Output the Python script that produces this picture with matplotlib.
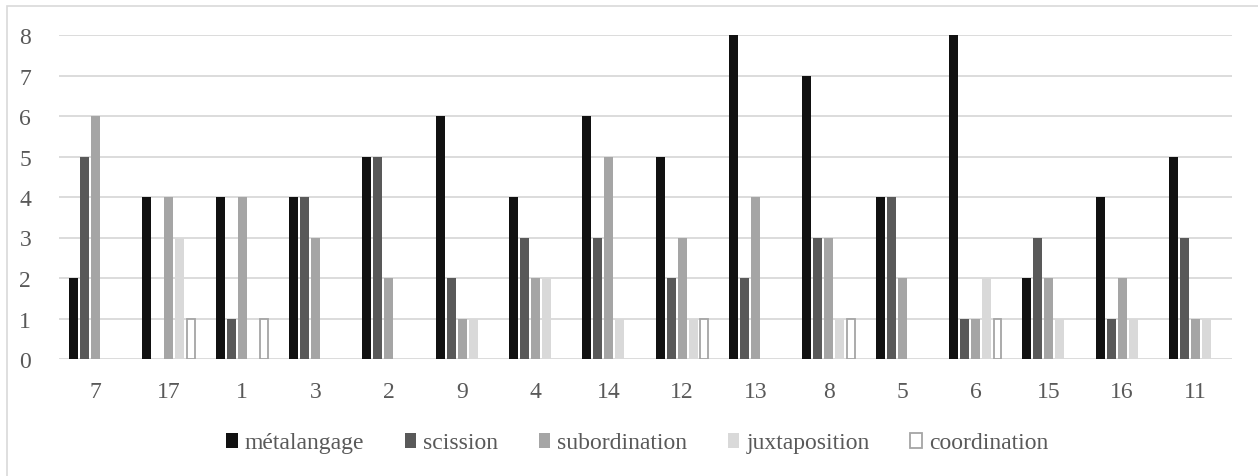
import matplotlib
matplotlib.use("Agg")
import matplotlib.pyplot as plt
import numpy as np
from matplotlib.patches import Rectangle

categories = ["7", "17", "1", "3", "2", "9", "4", "14", "12", "13", "8", "5", "6", "15", "16", "11"]
metalangage   = [2, 4, 4, 4, 5, 6, 4, 6, 5, 8, 7, 4, 8, 2, 4, 5]
scission      = [5, 0, 1, 4, 5, 2, 3, 3, 2, 2, 3, 4, 1, 3, 1, 3]
subordination = [6, 4, 4, 3, 2, 1, 2, 5, 3, 4, 3, 2, 1, 2, 2, 1]
juxtaposition = [0, 3, 0, 0, 0, 1, 2, 1, 1, 0, 1, 0, 2, 1, 1, 1]
coordination  = [0, 1, 1, 0, 0, 0, 0, 0, 1, 0, 1, 0, 1, 0, 0, 0]
series_names = ["métalangage", "scission", "subordination", "juxtaposition", "coordination"]

plt.rcParams['font.family'] = ['Liberation Serif', 'DejaVu Serif']

fig = plt.figure(figsize=(12.58, 4.77), dpi=100)
fig.patches.append(Rectangle((7/1258, -0.1), 1.2, 1.1 - 7/477,
                             transform=fig.transFigure, fill=False,
                             edgecolor="#d9d9d9", linewidth=1.2))
ax = fig.add_axes([59/1258, 1-360/477, (1232-59)/1258, (360-36)/477])

x = np.arange(len(categories))
step = 0.150
w = 0.123
styles = [
    dict(color="#111111"),
    dict(color="#595959"),
    dict(color="#a5a5a5"),
    dict(color="#d9d9d9"),
    dict(facecolor="white", edgecolor="#a5a5a5", linewidth=1.3),
]
data = [metalangage, scission, subordination, juxtaposition, coordination]
for i, (vals, name, st) in enumerate(zip(data, series_names, styles)):
    vals = np.asarray(vals, dtype=float)
    mask = vals > 0
    ww = w if i < 4 else w - 0.02
    ax.bar((x + (i - 2) * step)[mask], vals[mask], width=ww, label=name, zorder=3, **st)

ax.set_xlim(-0.5, len(categories) - 0.5)
ax.set_ylim(0, 8)
ax.set_yticks(range(0, 9))
ax.set_xticks(x)
ax.set_xticklabels(categories)
ax.grid(axis="y", color="#d9d9d9", linewidth=1.3, zorder=0)
for s in ["top", "right", "left", "bottom"]:
    ax.spines[s].set_visible(False)
ax.tick_params(axis="both", length=0, labelsize=17, labelcolor="#595959")
ax.tick_params(axis="x", pad=16)
ax.tick_params(axis="y", pad=20)

leg = fig.legend(loc="center", bbox_to_anchor=(637/1258, 1-444/477), ncol=5,
                 frameon=False, fontsize=17, handlelength=0.5, handleheight=0.6,
                 handletextpad=0.3, columnspacing=1.7, labelcolor="#595959")

fig.savefig("out.png", dpi=100)
